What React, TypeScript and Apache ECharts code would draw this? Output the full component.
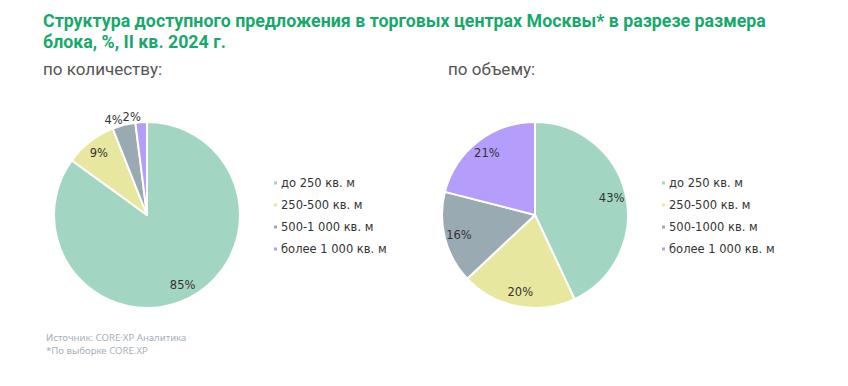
import React, { useEffect, useRef } from "react";
import * as echarts from "echarts";

const titleText = "Структура доступного предложения в торговых центрах Москвы* в разрезе размера\nблока, %, II кв. 2024 г.";
const subtitleLeft = "по количеству:";
const subtitleRight = "по объему:";
const sourceLine1 = "Источник: CORE·XP Аналитика";
const sourceLine2 = "*По выборке CORE.XP";

const countCategories = ["до 250 кв. м", "250-500 кв. м", "500-1 000 кв. м", "более 1 000 кв. м"];
const countValues = [85, 9, 4, 2];
const volumeCategories = ["до 250 кв. м", "250-500 кв. м", "500-1000 кв. м", "более 1 000 кв. м"];
const volumeValues = [43, 20, 16, 21];
const colors = ["#a3d6c2", "#e7e79f", "#9aaab3", "#b59dfb"];

const OUTSIDE_THRESHOLD = 5;

export default function App() {
  const ref = useRef<HTMLDivElement>(null);
  useEffect(() => {
    if (!ref.current) return;
    const chart = echarts.init(ref.current, undefined, { renderer: "svg" });
    const R = 93;
    const labelFont = { fontFamily: "DejaVu Sans", fontSize: 11.5, color: "#333" };

    const mainSeries = (cats: string[], vals: number[], cx: number) => ({
      type: "pie",
      center: [cx, 215],
      radius: [0, R],
      startAngle: 90,
      clockwise: true,
      avoidLabelOverlap: false,
      label: { show: false },
      labelLine: { show: false },
      itemStyle: { borderColor: "#fff", borderWidth: 2 },
      emphasis: { disabled: true },
      data: cats.map((n, i) => ({ name: n, value: vals[i], itemStyle: { color: colors[i] } })),
    });
    const labelSeries = (cats: string[], vals: number[], cx: number) => ({
      type: "pie",
      center: [cx, 215],
      radius: [58, R],
      startAngle: 90,
      clockwise: true,
      silent: true,
      avoidLabelOverlap: false,
      emphasis: { disabled: true },
      itemStyle: { color: "rgba(0,0,0,0)", borderWidth: 0 },
      label: { show: true, position: "inside", formatter: "{c}%", ...labelFont },
      labelLine: { show: false, length: 5, length2: 0 },
      data: cats.map((n, i) => ({
        name: n,
        value: vals[i],
        itemStyle: { color: "rgba(0,0,0,0)" },
        label:
          vals[i] < OUTSIDE_THRESHOLD
            ? { position: "outside", distanceToLabelLine: 0 }
            : { position: "inside" },
      })),
    });

    const legend = (cats: string[], left: number) => ({
      orient: "vertical",
      left,
      top: 176,
      padding: 0,
      icon: "rect",
      itemWidth: 5,
      itemHeight: 5,
      itemGap: 8,
      selectedMode: false,
      textStyle: { fontFamily: "DejaVu Sans", fontSize: 11.5, color: "#333", lineHeight: 14, padding: [0, 0, 0, -2] },
      data: cats,
    });

    const sourceStyle = { fontFamily: "Noto Sans", fontWeight: "normal", fontSize: 9.6, color: "#a6b0ba", lineHeight: 12 };

    chart.setOption({
      animation: false,
      color: colors,
      title: [
        {
          text: titleText,
          left: 38,
          top: 5,
          textStyle: { fontFamily: "Roboto", fontWeight: "bold", fontSize: 17.8, color: "#17a96b", lineHeight: 21 },
        },
        {
          text: subtitleLeft,
          left: 38,
          top: 55,
          textStyle: { fontFamily: "Roboto", fontWeight: "normal", fontSize: 17, color: "#555" },
        },
        {
          text: subtitleRight,
          left: 443,
          top: 55,
          textStyle: { fontFamily: "Roboto", fontWeight: "normal", fontSize: 17, color: "#555" },
        },
        { text: sourceLine1, left: 46, top: 331, padding: 0, textStyle: sourceStyle },
        { text: sourceLine2, left: 46, top: 344, padding: 0, textStyle: sourceStyle },
      ],
      legend: [legend(countCategories, 272), legend(volumeCategories, 660)],
      series: [
        mainSeries(countCategories, countValues, 147),
        labelSeries(countCategories, countValues, 147),
        mainSeries(volumeCategories, volumeValues, 535),
        labelSeries(volumeCategories, volumeValues, 535),
      ],
    });
    return () => chart.dispose();
  }, []);
  return <div ref={ref} style={{ position: "fixed", left: 0, top: 0, width: 848, height: 386, background: "#fff" }} />;
}
